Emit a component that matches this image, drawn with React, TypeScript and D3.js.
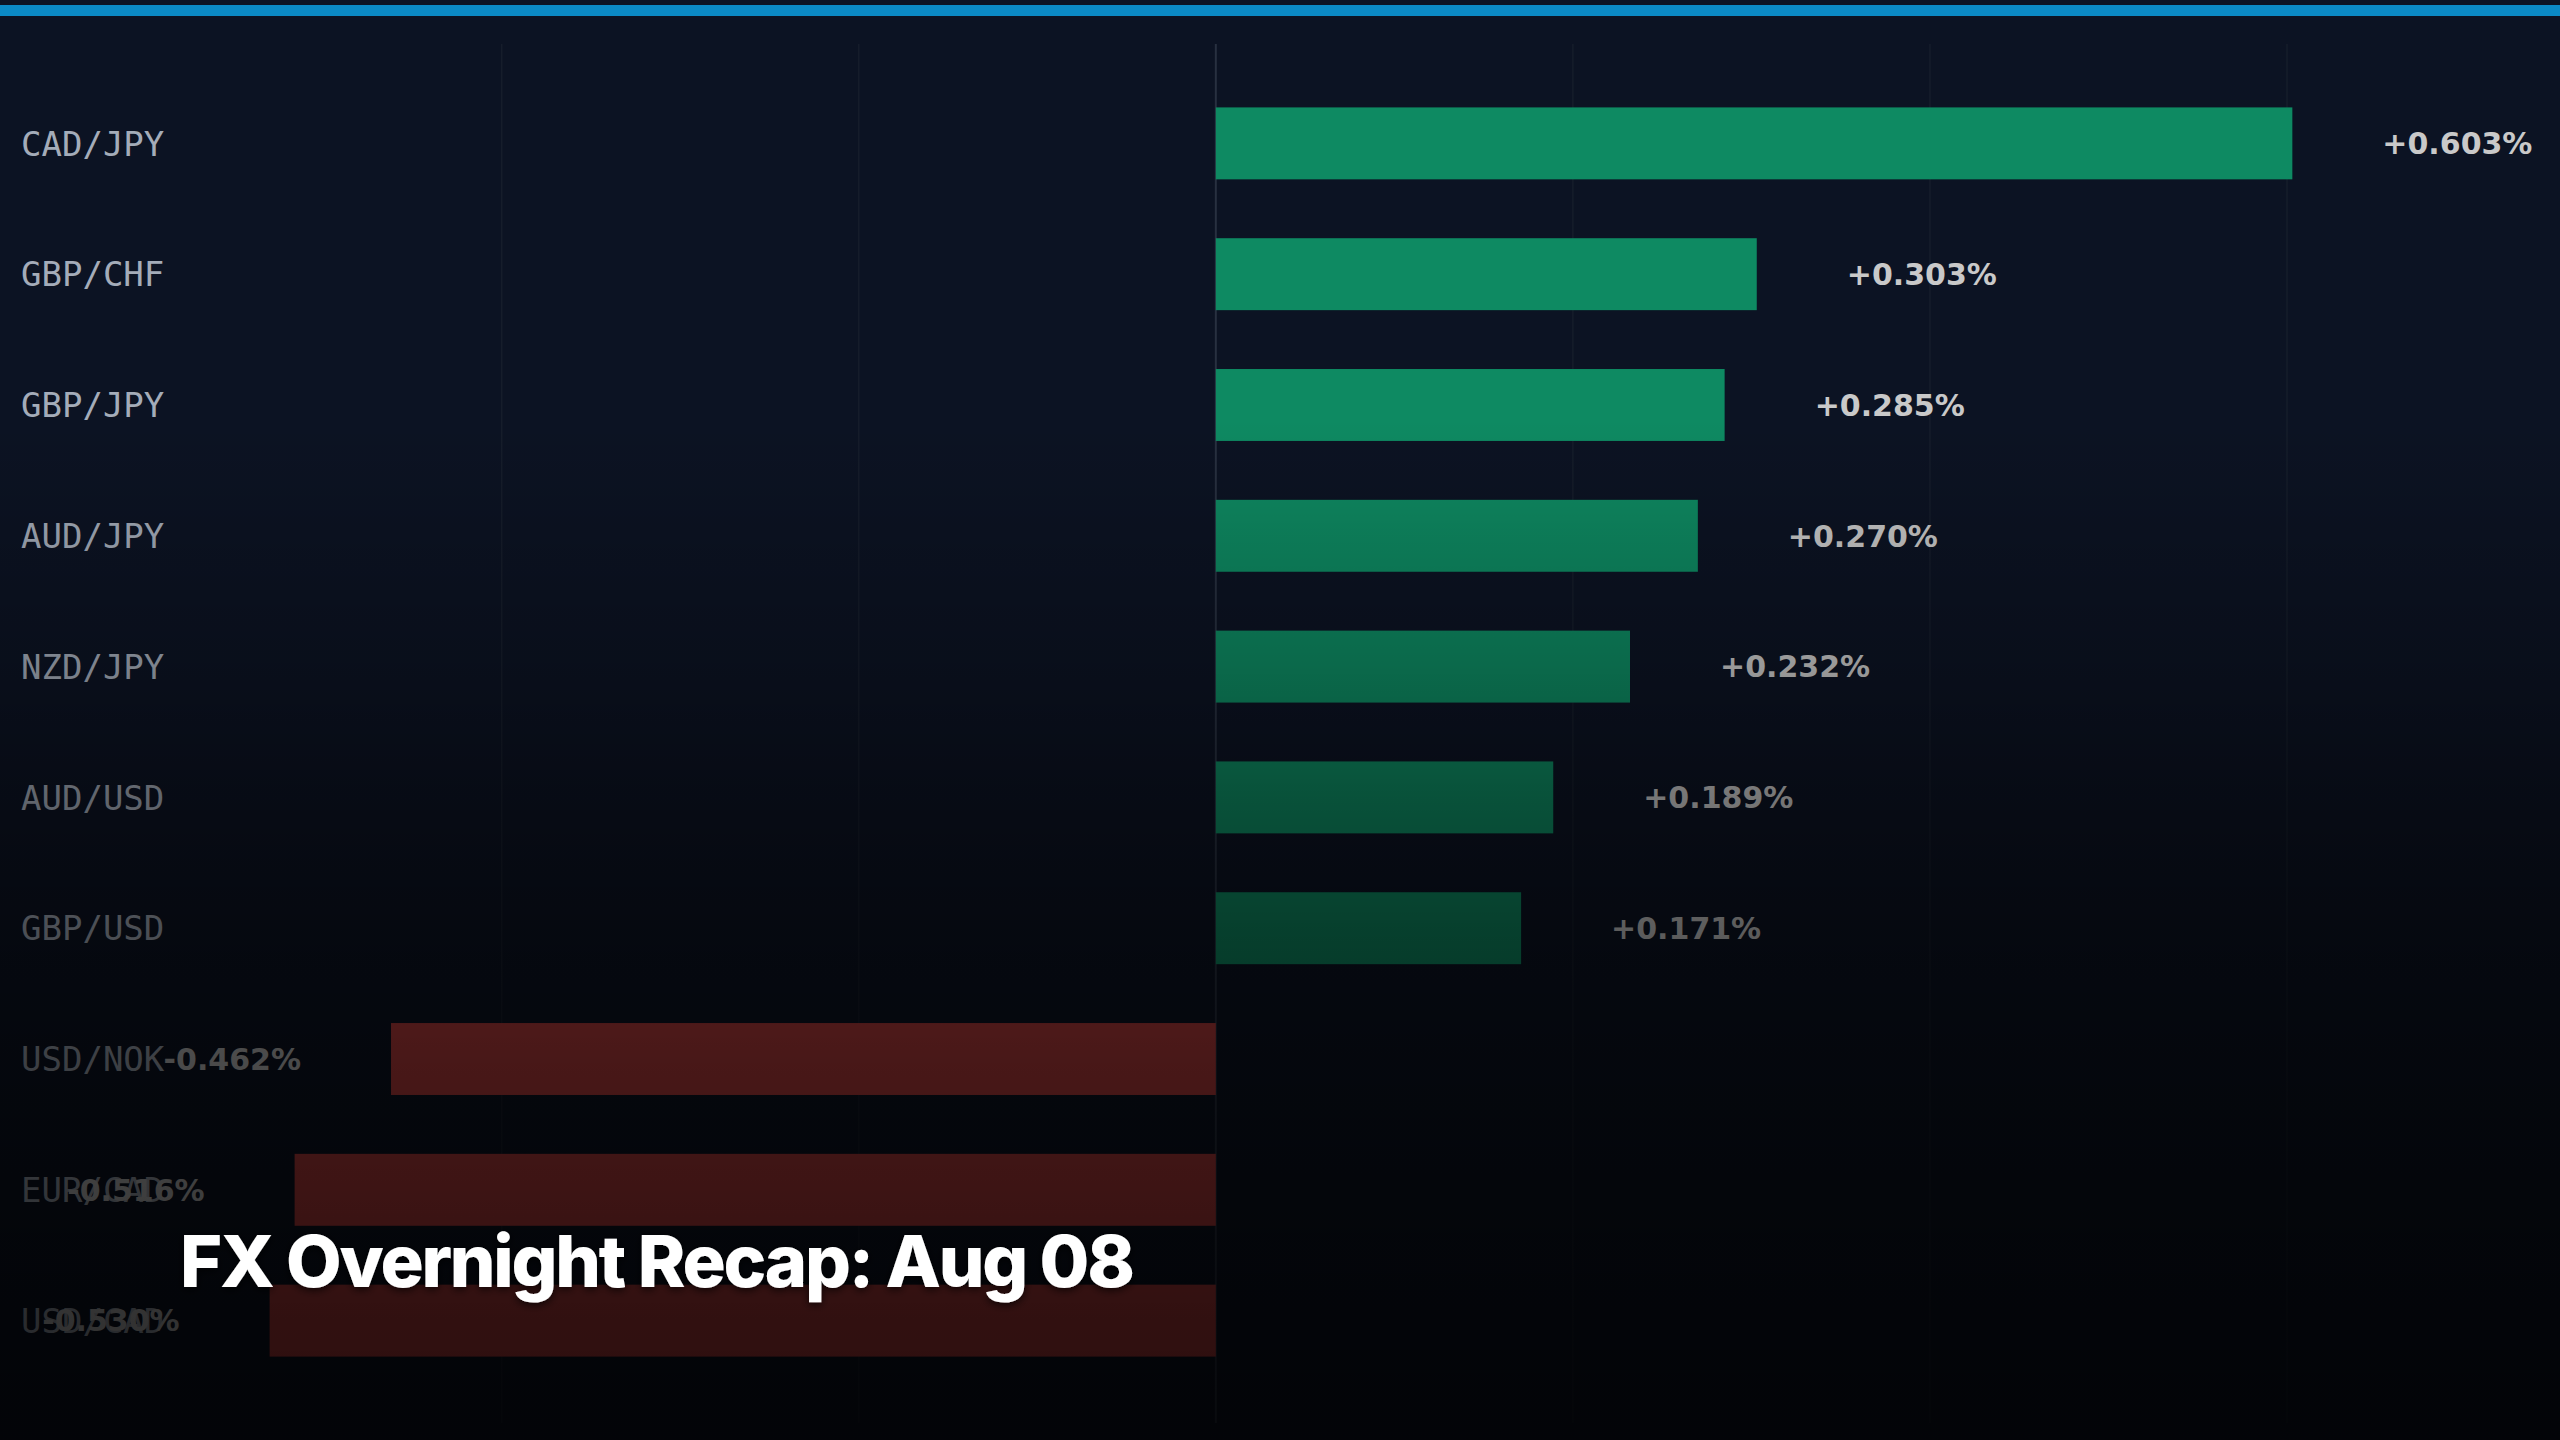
import React from "react";
import * as d3 from "d3";

const pairs = ["CAD/JPY", "GBP/CHF", "GBP/JPY", "AUD/JPY", "NZD/JPY", "AUD/USD", "GBP/USD", "USD/NOK", "EUR/CAD", "USD/CAD"];
const changes = [0.603, 0.303, 0.285, 0.27, 0.232, 0.189, 0.171, -0.462, -0.516, -0.53];
const title = "FX Overnight Recap: Aug 08";

const W = 2560;
const H = 1440;

// fade overlay stops (y in px, black opacity)
const fadeStops: [number, number][] = [
  [0, 0],
  [420, 0],
  [535, 0.12],
  [666, 0.24],
  [796, 0.41],
  [927, 0.54],
  [1057, 0.63],
  [1188, 0.69],
  [1320, 0.75],
  [1440, 0.78],
];

const locale = d3.formatLocale({ decimal: ".", thousands: ",", grouping: [3], currency: ["$", ""], minus: "-" });

export default function App() {
  const data = pairs.map((p, i) => ({ pair: p, value: changes[i] }));
  const ext = d3.extent(changes) as [number, number];
  const x = d3.scaleLinear().domain([ext[0] * 1.1, ext[1] * 1.1]).range([175, 2400]);
  const y = d3.scaleBand<string>().domain(pairs).range([42, 1422]).paddingInner(0.45).paddingOuter(0.5);
  const ticks = x.ticks(5);
  const fmt = (v: number) => locale.format("+.3f")(v) + "%";
  const bw = y.bandwidth();

  return (
    <svg width={W} height={H} style={{ position: "fixed", left: 0, top: 0, display: "block" }}>
      <defs>
        <linearGradient id="fade" gradientUnits="userSpaceOnUse" x1={0} y1={0} x2={0} y2={H}>
          {fadeStops.map(([yy, o], i) => (
            <stop key={i} offset={yy / H} stopColor="#000" stopOpacity={o} />
          ))}
        </linearGradient>
        <filter id="shadow" x="-10%" y="-30%" width="120%" height="160%">
          <feDropShadow dx="0" dy="2" stdDeviation="4" floodColor="#000" floodOpacity="0.8" />
        </filter>
      </defs>
      <rect x={0} y={0} width={W} height={H} fill="#0c1323" />
      <g>
        {ticks.map((t) => (
          <line
            key={t}
            x1={x(t)}
            x2={x(t)}
            y1={44}
            y2={1423}
            stroke={t === 0 ? "#283040" : "#161d2b"}
            strokeWidth={t === 0 ? 2 : 1.5}
          />
        ))}
      </g>
      <g>
        {data.map((d) => {
          const x0 = x(Math.min(0, d.value));
          const x1 = x(Math.max(0, d.value));
          const yy = y(d.pair)!;
          return (
            <rect
              key={d.pair}
              x={x0}
              y={yy}
              width={x1 - x0}
              height={bw}
              fill={d.value >= 0 ? "#0e8a62" : "#c44040"}
            />
          );
        })}
      </g>
      <g>
        {data.map((d) => (
          <text
            key={d.pair}
            x={21}
            y={y(d.pair)! + bw / 2}
            dy="0.36em"
            fontFamily="DejaVu Sans Mono"
            fontSize={34}
            fill="#a4acb9"
          >
            {d.pair}
          </text>
        ))}
      </g>
      <g>
        {data.map((d) => (
          <text
            key={d.pair}
            x={d.value >= 0 ? x(d.value) + 90 : x(d.value) - 90}
            y={y(d.pair)! + bw / 2}
            dy="0.36em"
            textAnchor={d.value >= 0 ? "start" : "end"}
            fontFamily="DejaVu Sans"
            fontWeight="bold"
            fontSize={30}
            fill="#c9c9c9"
          >
            {fmt(d.value)}
          </text>
        ))}
      </g>
      <rect x={0} y={0} width={W} height={H} fill="url(#fade)" />
      <text
        x={180}
        y={1287}
        fontFamily="Inter"
        fontWeight={800}
        fontSize={72}
        letterSpacing={-2.2}
        fill="#ffffff"
        filter="url(#shadow)"
      >
        {title}
      </text>
      <rect x={0} y={5} width={W} height={11} fill="#0b89c5" />
    </svg>
  );
}
